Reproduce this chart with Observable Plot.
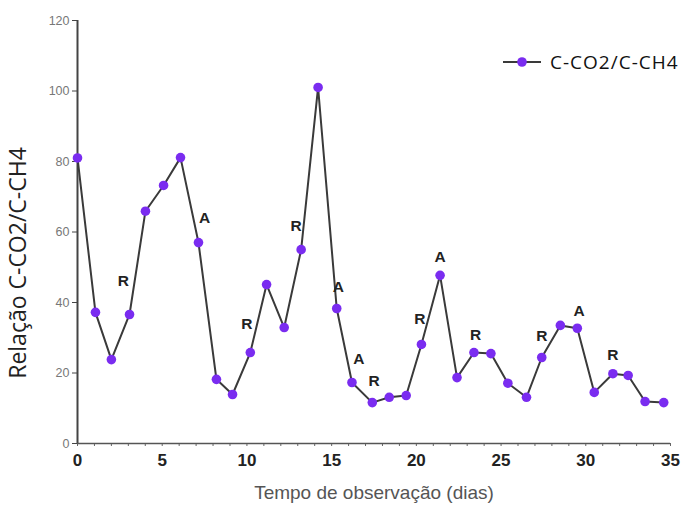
<!DOCTYPE html>
<html>
<head>
<meta charset="utf-8">
<script src="https://cdn.jsdelivr.net/npm/d3@7"></script>
<script src="https://cdn.jsdelivr.net/npm/@observablehq/plot@0.6"></script>
<style>
  html, body { margin: 0; padding: 0; background: #fff; }
  #wrap { position: relative; width: 687px; height: 505px; overflow: hidden; }
  #legend { position: absolute; left: 503px; top: 49px; display: flex; align-items: center;
            font-family: "Open Sans", "Noto Sans", sans-serif; font-size: 19px; letter-spacing: 1px; color: #111; }
</style>
</head>
<body>
<div id="wrap">
  <div id="chart"></div>
  <div id="legend">
    <svg width="40" height="26" style="margin-right:7px"><line x1="0" y1="13" x2="38" y2="13" stroke="#3a3a3a" stroke-width="2"/><circle cx="19" cy="13" r="4.8" fill="#7a2cf0"/></svg>
    <span>C-CO2/C-CH4</span>
  </div>
</div>
<script>
// Observation days and C-CO2/C-CH4 ratio
const days = [0, 1.06, 2.0, 3.07, 4.01, 5.08, 6.08, 7.14, 8.2, 9.15, 10.2, 11.16, 12.2, 13.2, 14.2, 15.3, 16.2, 17.4, 18.4, 19.4, 20.3, 21.4, 22.4, 23.4, 24.4, 25.4, 26.5, 27.4, 28.5, 29.5, 30.5, 31.6, 32.5, 33.5, 34.6];
const ratio = [81, 37.2, 23.8, 36.6, 65.9, 73.2, 81.1, 57, 18.2, 13.9, 25.8, 45.1, 32.9, 55, 101, 38.3, 17.3, 11.6, 13.1, 13.6, 28.1, 47.7, 18.7, 25.8, 25.5, 17.1, 13.1, 24.4, 33.5, 32.7, 14.5, 19.8, 19.3, 11.9, 11.6];

// Annotation letters (A / R)
const noteText = ["R", "A", "R", "R", "A", "A", "R", "R", "A", "R", "R", "A", "R"];
const noteDay = [2.7, 7.5, 10.0, 12.9, 15.4, 16.6, 17.5, 20.2, 21.4, 23.5, 27.4, 29.6, 31.6];
const noteVal = [46.2, 64.1, 34.0, 61.8, 44.5, 24.1, 17.6, 35.2, 52.8, 30.9, 30.4, 37.7, 25.2];

const yTicks = [0, 20, 40, 60, 80, 100, 120];
const xTicks = [0, 5, 10, 15, 20, 25, 30, 35];
const xMinor = d3.range(0, 36, 1);

const xTitle = "Tempo de observação (dias)";
const yTitle = "Relação C-CO2/C-CH4";

const data = days.map((d, i) => ({day: d, value: ratio[i]}));
const notes = noteText.map((t, i) => ({t, day: noteDay[i], value: noteVal[i]}));

const plot = Plot.plot({
  width: 687,
  height: 505,
  marginLeft: 77,
  marginRight: 17,
  marginTop: 20,
  marginBottom: 62,
  style: {fontFamily: "Liberation Sans, Arial, sans-serif", background: "transparent"},
  x: {domain: [0, 35]},
  y: {domain: [0, 120]},
  marks: [
    Plot.axisY({ticks: yTicks, tickSize: 5, tickPadding: 3, fontSize: 12.5, color: "#777", stroke: "#444", label: null}),
    Plot.axisX({ticks: xMinor, tickSize: 3, tickFormat: () => "", stroke: "#666", label: null}),
    Plot.axisX({ticks: xTicks, tickSize: 0, tickPadding: 10, fontSize: 17, fontWeight: "bold", color: "#222", label: null}),
    Plot.ruleX([0], {stroke: "#444", strokeWidth: 2}),
    Plot.ruleY([0], {stroke: "#555", strokeWidth: 1.5}),
    Plot.line(data, {x: "day", y: "value", stroke: "#3a3a3a", strokeWidth: 2}),
    Plot.dot(data, {x: "day", y: "value", r: 4.8, fill: "#7a2cf0", stroke: "none"}),
    Plot.text(notes, {x: "day", y: "value", text: "t", fontSize: 15.5, fontWeight: "bold", fill: "#222"}),
    Plot.text([xTitle], {frameAnchor: "bottom", dy: 49, lineAnchor: "middle", textAnchor: "middle", fontSize: 19, fill: "#555"}),
    Plot.text([yTitle], {frameAnchor: "left", dx: -59, dy: 31, rotate: -90, textAnchor: "middle", lineAnchor: "middle",
                         fontSize: 23, fill: "#222", letterSpacing: 1.2,
                         fontFamily: "Open Sans, Noto Sans, sans-serif"})
  ]
});
document.getElementById("chart").appendChild(plot);
</script>
</body>
</html>
